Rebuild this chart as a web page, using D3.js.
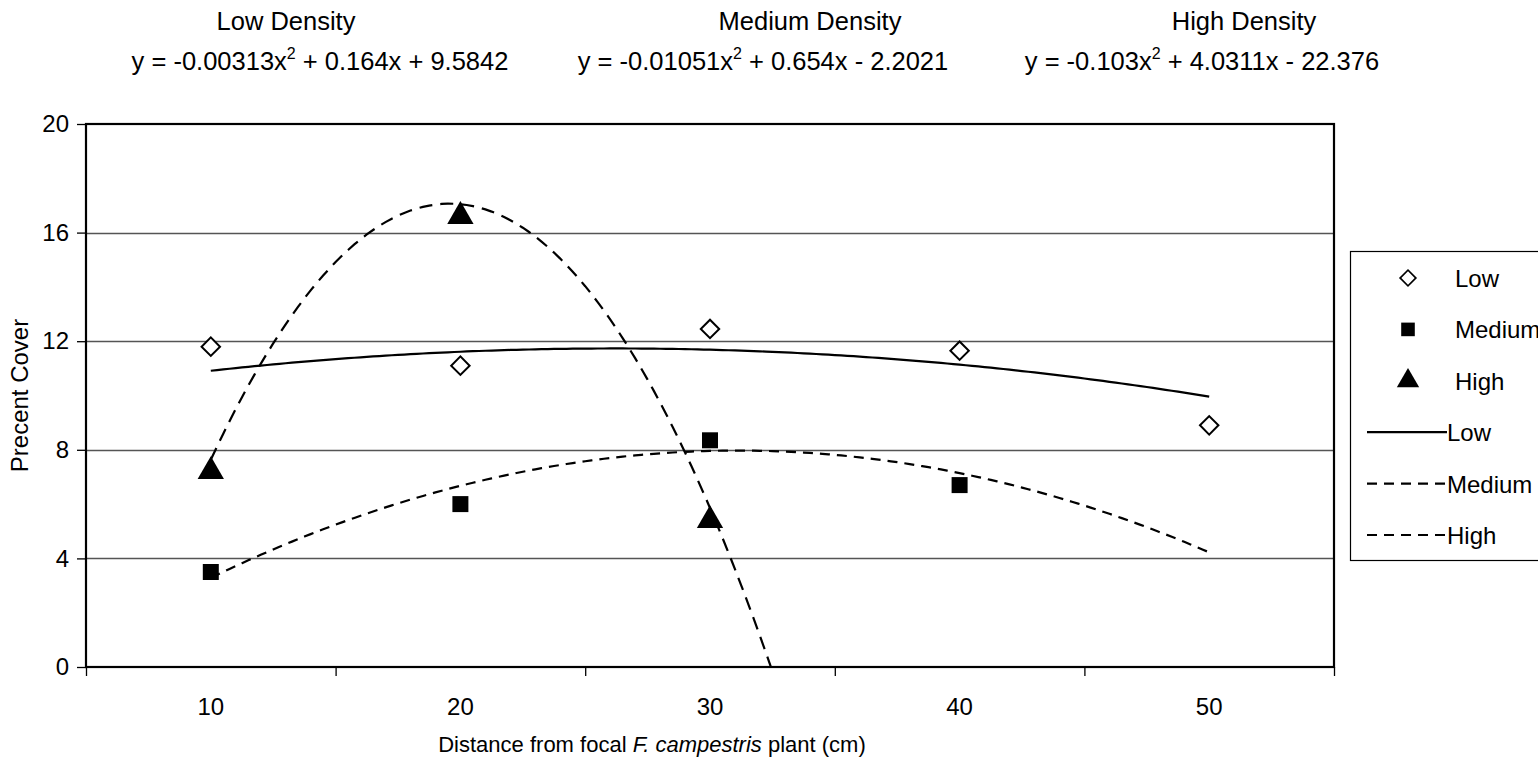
<!DOCTYPE html>
<html>
<head>
<meta charset="utf-8">
<script src="https://cdn.jsdelivr.net/npm/d3@7"></script>
<style>
  body { margin: 0; background: #fff; }
  text { font-family: "Liberation Sans", Arial, sans-serif; fill: #000; }
</style>
</head>
<body>
<div id="chart"></div>
<script>
// distance from focal plant (cm)
const distances = [10, 20, 30, 40, 50];
const lowCover = [11.8, 11.1, 12.45, 11.65, 8.9];
const mediumCover = [3.5, 6.0, 8.35, 6.7];
const highCover = [7.2, 16.6, 5.4];

// quadratic trendline coefficients [a, b, c] as printed on the chart
const lowCoef = [-0.00313, 0.164, 9.5842];
const mediumCoef = [-0.01051, 0.654, -2.2021];
const highCoef = [-0.103, 4.0311, -22.376];

const densityNames = ['Low Density', 'Medium Density', 'High Density'];
const eqParts = [
  ['y = -0.00313x', ' + 0.164x + 9.5842'],
  ['y = -0.01051x', ' + 0.654x - 2.2021'],
  ['y = -0.103x', ' + 4.0311x - 22.376'],
];
const yTicks = [0, 4, 8, 12, 16, 20];
const xBounds = [5, 15, 25, 35, 45, 55];

const width = 1538;
const height = 770;
const margin = { top: 124, right: 204, bottom: 103, left: 86 };

const svg = d3
  .select('#chart')
  .append('svg')
  .attr('width', width)
  .attr('height', height);

const x = d3.scaleLinear().domain([5, 55]).range([margin.left, width - margin.right]);
const y = d3.scaleLinear().domain([0, 20]).range([height - margin.bottom, margin.top]);

// gridlines
svg
  .append('g')
  .selectAll('line')
  .data(yTicks.filter((d) => d > 0 && d < 20))
  .join('line')
  .attr('x1', x(5))
  .attr('x2', x(55))
  .attr('y1', (d) => Math.round(y(d)) + 0.5)
  .attr('y2', (d) => Math.round(y(d)) + 0.5)
  .attr('stroke', '#555')
  .attr('stroke-width', 1.3);

// y axis
const yAxis = svg
  .append('g')
  .attr('transform', `translate(${x(5)},0)`)
  .call(d3.axisLeft(y).tickValues(yTicks).tickSize(9).tickPadding(8));
yAxis.select('.domain').remove();
yAxis.selectAll('.tick line').attr('stroke', '#000').attr('stroke-width', 1.3);
yAxis.selectAll('.tick text').style('font-size', '24px').attr('font-family', null);

// x axis: boundary ticks, labels centred on categories
const xAxis = svg
  .append('g')
  .attr('transform', `translate(0,${y(0)})`)
  .call(d3.axisBottom(x).tickValues(xBounds).tickSize(9).tickFormat(''));
xAxis.select('.domain').remove();
xAxis.selectAll('.tick line').attr('stroke', '#000').attr('stroke-width', 1.3);

svg
  .append('g')
  .selectAll('text')
  .data(distances)
  .join('text')
  .attr('x', (d) => x(d))
  .attr('y', y(0) + 48)
  .attr('text-anchor', 'middle')
  .style('font-size', '24px')
  .text((d) => d);

// trendlines
const clipId = 'plot-clip';
svg
  .append('clipPath')
  .attr('id', clipId)
  .append('rect')
  .attr('x', x(5))
  .attr('y', y(20))
  .attr('width', x(55) - x(5))
  .attr('height', y(0) - y(20));

const poly = (c) => (v) => c[0] * v * v + c[1] * v + c[2];
const xs = d3.range(10, 50.001, 0.25);
const line = d3
  .line()
  .x((d) => x(d[0]))
  .y((d) => y(d[1]));

const trends = [
  { coef: lowCoef, dash: null },
  { coef: mediumCoef, dash: '10,7' },
  { coef: highCoef, dash: '13,8' },
];

svg
  .append('g')
  .attr('clip-path', `url(#${clipId})`)
  .selectAll('path')
  .data(trends)
  .join('path')
  .attr('d', (t) => line(xs.map((v) => [v, poly(t.coef)(v)])))
  .attr('fill', 'none')
  .attr('stroke', '#000')
  .attr('stroke-width', 2.2)
  .attr('stroke-dasharray', (t) => t.dash);

// plot frame
svg
  .append('rect')
  .attr('x', x(5))
  .attr('y', y(20))
  .attr('width', x(55) - x(5))
  .attr('height', y(0) - y(20))
  .attr('fill', 'none')
  .attr('stroke', '#000')
  .attr('stroke-width', 2.2);

// markers
const diamond = d3.symbol().type(d3.symbolSquare).size(170);
const square = d3.symbol().type(d3.symbolSquare).size(256);
const triangle = d3.symbol().type(d3.symbolTriangle).size(300);

function drawMarkers(values, gen, fill, rotate) {
  svg
    .append('g')
    .selectAll('path')
    .data(values)
    .join('path')
    .attr('d', gen)
    .attr('transform', (d, i) => `translate(${x(distances[i])},${y(d)}) rotate(${rotate})`)
    .attr('fill', fill)
    .attr('stroke', '#000')
    .attr('stroke-width', fill === '#fff' ? 2 : 0);
}
drawMarkers(lowCover, diamond, '#fff', 45);
drawMarkers(mediumCover, square, '#000', 0);
drawMarkers(highCover, triangle, '#000', 0);

// equations and titles
const eqCenters = [320, 763, 1202];
const titleCenters = [286, 810, 1244];

svg
  .append('g')
  .selectAll('text')
  .data(densityNames)
  .join('text')
  .attr('x', (d, i) => titleCenters[i])
  .attr('y', 30)
  .attr('text-anchor', 'middle')
  .style('font-size', '25.5px')
  .text((d) => d);

const eq = svg
  .append('g')
  .selectAll('text')
  .data(eqParts)
  .join('text')
  .attr('x', (d, i) => eqCenters[i])
  .attr('y', 70)
  .attr('text-anchor', 'middle')
  .style('font-size', '25.5px');
eq.append('tspan').text((d) => d[0]);
eq.append('tspan').attr('dy', -11).style('font-size', '16px').text('2');
eq.append('tspan').attr('dy', 11).text((d) => d[1]);

// axis titles
svg
  .append('text')
  .attr('transform', `translate(28,${(y(0) + y(20)) / 2}) rotate(-90)`)
  .attr('text-anchor', 'middle')
  .style('font-size', '24px')
  .text('Precent Cover');

const xt = svg
  .append('text')
  .attr('x', 652)
  .attr('y', 752)
  .attr('text-anchor', 'middle')
  .style('font-size', '22px');
xt.append('tspan').text('Distance from focal ');
xt.append('tspan').style('font-style', 'italic').text('F. campestris');
xt.append('tspan').text(' plant (cm)');

// legend
const legendItems = [
  { label: 'Low', kind: 'marker', gen: diamond, fill: '#fff', rotate: 45 },
  { label: 'Medium', kind: 'marker', gen: square, fill: '#000', rotate: 0 },
  { label: 'High', kind: 'marker', gen: triangle, fill: '#000', rotate: 0 },
  { label: 'Low', kind: 'line', dash: null },
  { label: 'Medium', kind: 'line', dash: '10,7' },
  { label: 'High', kind: 'line', dash: '10,7' },
];

const legend = svg.append('g').attr('transform', 'translate(1350,251)');
legend
  .append('rect')
  .attr('x', 0.5)
  .attr('y', 0.5)
  .attr('width', 240)
  .attr('height', 309)
  .attr('fill', '#fff')
  .attr('stroke', '#000')
  .attr('stroke-width', 1.2);

const li = legend
  .selectAll('g')
  .data(legendItems)
  .join('g')
  .attr('transform', (d, i) => `translate(0,${27 + i * 51.4})`);

li.filter((d) => d.kind === 'marker')
  .append('path')
  .attr('d', (d) => d.gen())
  .attr('transform', (d) => `translate(58,0) scale(0.85) rotate(${d.rotate})`)
  .attr('fill', (d) => d.fill)
  .attr('stroke', '#000')
  .attr('stroke-width', (d) => (d.fill === '#fff' ? 2 : 0));

li.filter((d) => d.kind === 'line')
  .append('line')
  .attr('x1', 17)
  .attr('x2', 97)
  .attr('stroke', '#000')
  .attr('stroke-width', 2.2)
  .attr('stroke-dasharray', (d) => d.dash);

li.append('text')
  .attr('x', (d) => (d.kind === 'line' ? 97 : 105))
  .attr('y', 9)
  .style('font-size', '24px')
  .text((d) => d.label);
</script>
</body>
</html>
